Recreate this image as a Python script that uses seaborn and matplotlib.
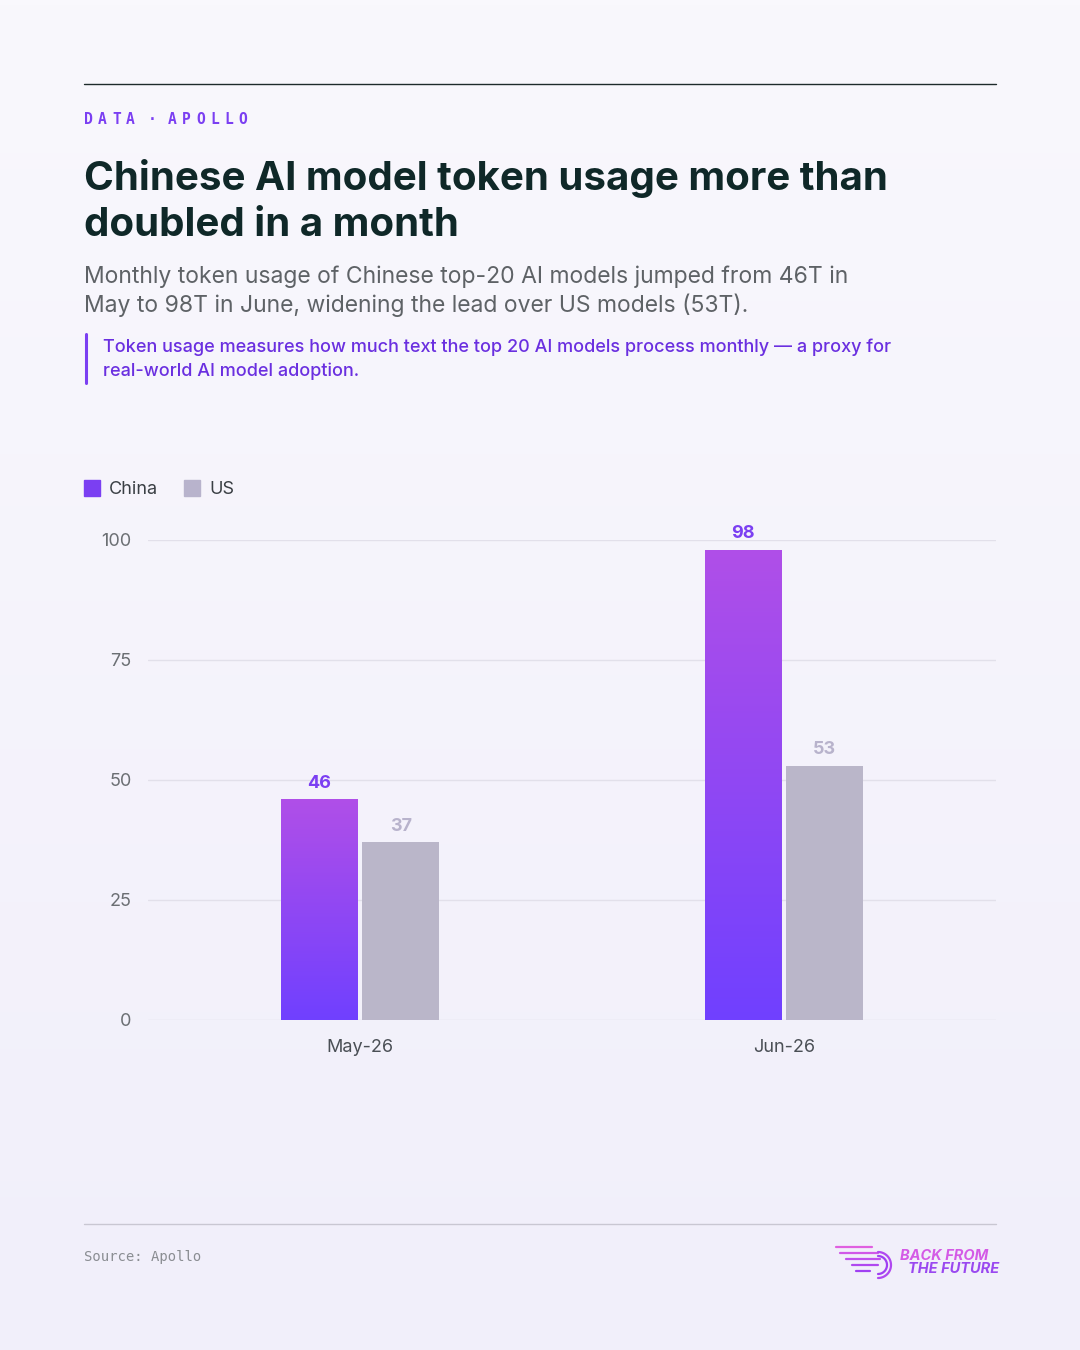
import matplotlib.pyplot as plt
import numpy as np
import pandas as pd
import seaborn as sns
from matplotlib.lines import Line2D
from matplotlib.patches import Rectangle

months = ["May-26", "Jun-26"]
china = [46, 98]
us = [37, 53]
yticks = [0, 25, 50, 75, 100]

df = pd.DataFrame({
    "month": months * 2,
    "value": china + us,
    "region": ["China"] * 2 + ["US"] * 2,
})

sns.set_theme(style="white")
plt.rcParams["font.family"] = ["Inter", "DejaVu Sans"]

W, H = 1080, 1350
fig = plt.figure(figsize=(10.8, 13.5), dpi=100)
bg = fig.add_axes([0, 0, 1, 1], zorder=-10)
grad = np.linspace(0, 1, 256).reshape(-1, 1)
bg.imshow(grad, aspect="auto", extent=[0, 1, 0, 1],
          cmap=sns.blend_palette(["#F9F8FD", "#F1EFFA"], as_cmap=True))
bg.axis("off")


def fx(px):
    return px / W


def fy(py):
    return 1 - py / H


# header
fig.add_artist(Line2D([fx(84), fx(996)], [fy(84), fy(84)], color="#1E2B2B", lw=1))
kicker = [(c, 84 + 14 * i) for i, c in enumerate("DATA")] + [("·", 148)] + \
         [(c, 168 + 14 * i) for i, c in enumerate("APOLLO")]
for c, px in kicker:
    fig.text(fx(px), fy(120), c, color="#7B3FF2", fontsize=10.5,
             fontweight="bold", family="DejaVu Sans Mono", va="center")
fig.text(fx(84), fy(178), "Chinese AI model token usage more than", color="#0F2828",
         fontsize=29, fontweight="bold", va="center")
fig.text(fx(84), fy(226), "doubled in a month", color="#0F2828",
         fontsize=29, fontweight="bold", va="center")
fig.text(fx(84), fy(277), "Monthly token usage of Chinese top-20 AI models jumped from 46T in",
         color="#5E6266", fontsize=16.5, va="center")
fig.text(fx(84), fy(305), "May to 98T in June, widening the lead over US models (53T).",
         color="#5E6266", fontsize=16.5, va="center")
fig.add_artist(Line2D([fx(85.5), fx(85.5)], [fy(334), fy(383)], color="#7B3FF2", lw=2.2))
fig.text(fx(103), fy(347), "Token usage measures how much text the top 20 AI models process monthly — a proxy for",
         color="#6A2FE0", fontsize=13, fontweight="medium", va="center")
fig.text(fx(103), fy(371), "real-world AI model adoption.",
         color="#6A2FE0", fontsize=13, fontweight="medium", va="center")

# legend
fig.add_artist(Rectangle((fx(84), fy(496)), fx(16), 16 / H, color="#7B3FF2"))
fig.text(fx(109), fy(489), "China", color="#3A3F44", fontsize=13, va="center")
fig.add_artist(Rectangle((fx(184), fy(496)), fx(16), 16 / H, color="#B8B3CC"))
fig.text(fx(209), fy(489), "US", color="#3A3F44", fontsize=13, va="center")

# chart
ax = fig.add_axes([fx(148), fy(1020), fx(996 - 148), 480 / H])
ax.set_facecolor("none")
sns.barplot(data=df, x="month", y="value", hue="region", order=months,
            hue_order=["China", "US"], palette={"China": "#8A45F5", "US": "#B8B3CC"},
            width=0.385, gap=0.06, legend=False, ax=ax, zorder=3)
ax.set_xlim(-0.5, 1.5)
ax.set_ylim(0, 100)
ax.set_yticks(yticks)
ax.set_yticklabels([str(t) for t in yticks])
for t in yticks:
    ax.axhline(t, color="#E2E0EA", lw=1, zorder=0)
ax.tick_params(axis="y", length=0, pad=12, labelsize=13, labelcolor="#6B6F73")
ax.tick_params(axis="x", length=0, pad=14, labelsize=13, labelcolor="#4A4F55")
ax.set_xlabel("")
ax.set_ylabel("")
for s in ax.spines.values():
    s.set_visible(False)

cmap = sns.blend_palette(["#7040FF", "#B04FE8"], as_cmap=True)
bars = [b for b in ax.patches if b.get_height() > 0]
for i, bar in enumerate(bars):
    h = bar.get_height()
    bar.set_linewidth(0)
    x0 = bar.get_x()
    w = bar.get_width()
    if i < len(china):
        im = ax.imshow(grad, aspect="auto", extent=[x0, x0 + w, 0, h], cmap=cmap,
                       zorder=4, origin="lower")
        im.set_clip_path(bar)
        color = "#7B3FF2"
    else:
        color = "#B8B3CC"
    ax.text(x0 + w / 2, h + 1.5, f"{h:.0f}", ha="center", va="bottom",
            color=color, fontsize=13, fontweight="bold")
ax.set_xlim(-0.5, 1.5)
ax.set_ylim(0, 100)

# footer
fig.add_artist(Line2D([fx(84), fx(996)], [fy(1224), fy(1224)], color="#C9C7D2", lw=1))
fig.text(fx(84), fy(1257), "Source: Apollo", color="#8A8D92", fontsize=10,
         family="DejaVu Sans Mono", va="center")
for i, (xa, xb, yy) in enumerate([(836, 872, 1247), (840, 878, 1253), (846, 880, 1259),
                                  (852, 878, 1265), (856, 870, 1271)]):
    fig.add_artist(Line2D([fx(xa), fx(xb)], [fy(yy), fy(yy)],
                          color=["#E060E0", "#D058E8", "#C050EE", "#B048F0", "#A040F2"][i], lw=1.6))
th = np.linspace(-np.pi / 2, np.pi / 2, 40)
for r, c in [(13, "#B048F0"), (9, "#A040F2")]:
    fig.add_artist(Line2D(fx(878 + r * np.cos(th)), fy(1265 - r * np.sin(th)), color=c, lw=1.6))
fig.text(fx(900), fy(1256), "BACK FROM", color="#D45AE6", fontsize=10.5,
         fontweight="bold", style="italic", va="center")
fig.text(fx(908), fy(1269), "THE FUTURE", color="#9A48F0", fontsize=10.5,
         fontweight="bold", style="italic", va="center")

fig.savefig("out.png", dpi=100)
